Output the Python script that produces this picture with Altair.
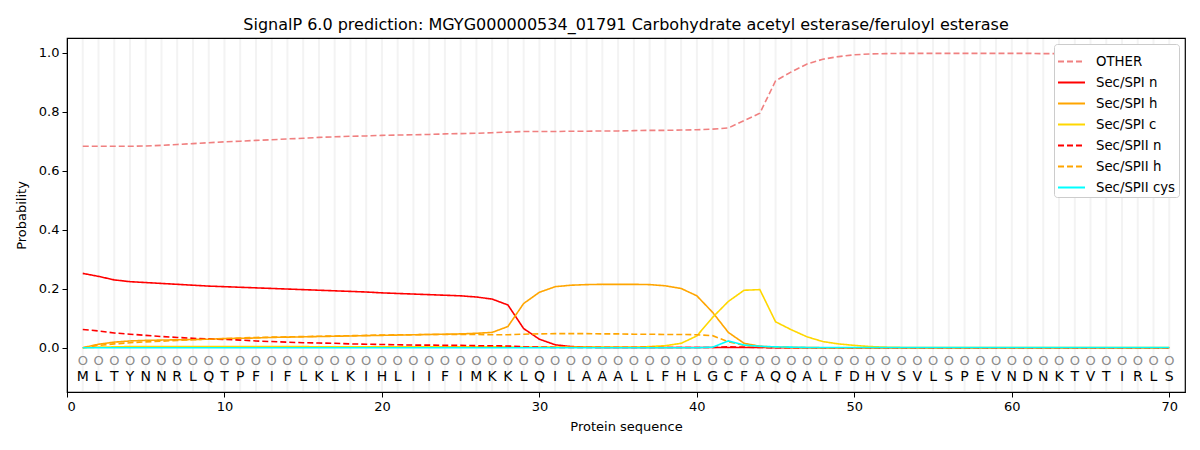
import altair as alt
import pandas as pd

sequence = list("MLTYNNRLQTPFIFLKLKIHLIIFIMKKLQILAAALLFHLGCFAQQALFDHVSVLSPEVNDNKTVTIRLS")
positions = list(range(1, len(sequence) + 1))

other = [0.683, 0.683, 0.683, 0.683, 0.684, 0.686, 0.689, 0.692, 0.695, 0.698,
         0.700, 0.703, 0.705, 0.708, 0.710, 0.713, 0.715, 0.717, 0.718, 0.720,
         0.721, 0.722, 0.723, 0.725, 0.726, 0.727, 0.729, 0.731, 0.733, 0.733,
         0.733, 0.734, 0.734, 0.735, 0.735, 0.736, 0.737, 0.737, 0.738, 0.739,
         0.741, 0.745, 0.770, 0.795, 0.905, 0.935, 0.962, 0.978, 0.987, 0.993,
         0.996, 0.997, 0.998, 0.998, 0.998, 0.998, 0.998, 0.998, 0.998, 0.998,
         0.998, 0.997, 0.997, 0.997, 0.997, 0.997, 0.997, 0.997, 0.998, 0.999]
spi_n = [0.252, 0.242, 0.230, 0.224, 0.221, 0.218, 0.215, 0.212, 0.209, 0.207,
         0.205, 0.203, 0.201, 0.199, 0.197, 0.195, 0.193, 0.191, 0.189, 0.186,
         0.184, 0.182, 0.180, 0.178, 0.176, 0.172, 0.165, 0.145, 0.065, 0.029,
         0.010, 0.004, 0.002, 0.001, 0.001, 0.001, 0.001, 0.001, 0.001, 0.001,
         0.001, 0.001, 0.001, 0.001, 0.000, 0.000, 0.000, 0.000, 0.000, 0.000,
         0.000, 0.000, 0.000, 0.000, 0.000, 0.000, 0.000, 0.000, 0.000, 0.000,
         0.000, 0.000, 0.000, 0.000, 0.000, 0.000, 0.000, 0.000, 0.000, 0.000]
spi_h = [0.000, 0.012, 0.019, 0.023, 0.025, 0.026, 0.027, 0.028, 0.029, 0.031,
         0.032, 0.033, 0.035, 0.036, 0.037, 0.038, 0.039, 0.040, 0.041, 0.042,
         0.043, 0.044, 0.045, 0.046, 0.047, 0.049, 0.052, 0.072, 0.150, 0.188,
         0.207, 0.212, 0.214, 0.215, 0.215, 0.215, 0.214, 0.210, 0.201, 0.176,
         0.120, 0.052, 0.015, 0.005, 0.002, 0.001, 0.001, 0.000, 0.000, 0.000,
         0.000, 0.000, 0.000, 0.000, 0.000, 0.000, 0.000, 0.000, 0.000, 0.000,
         0.000, 0.000, 0.000, 0.000, 0.000, 0.000, 0.000, 0.000, 0.000, 0.000]
spi_c = [0.000, 0.002, 0.003, 0.004, 0.004, 0.004, 0.004, 0.004, 0.004, 0.004,
         0.004, 0.004, 0.004, 0.004, 0.004, 0.003, 0.003, 0.003, 0.003, 0.003,
         0.003, 0.003, 0.003, 0.003, 0.003, 0.003, 0.003, 0.003, 0.002, 0.002,
         0.002, 0.002, 0.002, 0.002, 0.002, 0.002, 0.004, 0.007, 0.015, 0.040,
         0.103, 0.157, 0.195, 0.197, 0.088, 0.061, 0.037, 0.021, 0.013, 0.008,
         0.004, 0.002, 0.001, 0.001, 0.001, 0.001, 0.001, 0.001, 0.001, 0.001,
         0.001, 0.001, 0.001, 0.001, 0.001, 0.001, 0.001, 0.001, 0.001, 0.001]
spii_n = [0.062, 0.057, 0.050, 0.046, 0.042, 0.038, 0.035, 0.032, 0.030, 0.028,
          0.026, 0.023, 0.021, 0.019, 0.017, 0.016, 0.015, 0.013, 0.012, 0.011,
          0.010, 0.009, 0.009, 0.008, 0.008, 0.007, 0.007, 0.006, 0.003, 0.002,
          0.001, 0.001, 0.001, 0.001, 0.001, 0.001, 0.001, 0.001, 0.001, 0.001,
          0.001, 0.003, 0.002, 0.001, 0.000, 0.000, 0.000, 0.000, 0.000, 0.000,
          0.000, 0.000, 0.000, 0.000, 0.000, 0.000, 0.000, 0.000, 0.000, 0.000,
          0.000, 0.000, 0.000, 0.000, 0.000, 0.000, 0.000, 0.000, 0.000, 0.000]
spii_h = [0.000, 0.008, 0.013, 0.017, 0.020, 0.022, 0.025, 0.027, 0.029, 0.031,
          0.033, 0.035, 0.036, 0.037, 0.038, 0.039, 0.040, 0.041, 0.042, 0.043,
          0.044, 0.044, 0.045, 0.045, 0.045, 0.045, 0.044, 0.044, 0.046, 0.047,
          0.048, 0.048, 0.048, 0.047, 0.047, 0.046, 0.046, 0.045, 0.045, 0.044,
          0.041, 0.020, 0.008, 0.004, 0.002, 0.001, 0.000, 0.000, 0.000, 0.000,
          0.000, 0.000, 0.000, 0.000, 0.000, 0.000, 0.000, 0.000, 0.000, 0.000,
          0.000, 0.000, 0.000, 0.000, 0.000, 0.000, 0.000, 0.000, 0.000, 0.000]
spii_cys = [0.000, 0.000, 0.000, 0.000, 0.000, 0.000, 0.000, 0.000, 0.000, 0.000,
            0.000, 0.000, 0.000, 0.000, 0.000, 0.000, 0.000, 0.000, 0.000, 0.000,
            0.000, 0.000, 0.000, 0.000, 0.000, 0.000, 0.000, 0.000, 0.000, 0.000,
            0.000, 0.000, 0.000, 0.000, 0.000, 0.000, 0.000, 0.000, 0.000, 0.000,
            0.002, 0.023, 0.009, 0.005, 0.003, 0.002, 0.001, 0.001, 0.001, 0.001,
            0.001, 0.001, 0.001, 0.001, 0.001, 0.001, 0.001, 0.001, 0.001, 0.001,
            0.001, 0.001, 0.001, 0.001, 0.001, 0.001, 0.001, 0.001, 0.001, 0.001]

series_names = ["OTHER", "Sec/SPI n", "Sec/SPI h", "Sec/SPI c",
                "Sec/SPII n", "Sec/SPII h", "Sec/SPII cys"]
series_values = [other, spi_n, spi_h, spi_c, spii_n, spii_h, spii_cys]
series_colors = ["#f08080", "#ff0000", "#ffa500", "#ffd700",
                 "#ff0000", "#ffa500", "#00ffff"]
series_dashes = [[6, 3], [1, 0], [1, 0], [1, 0], [6, 3], [6, 3], [1, 0]]

rows = []
for name, vals in zip(series_names, series_values):
    for p, v in zip(positions, vals):
        rows.append({"pos": p, "prob": v, "series": name})
lines_df = pd.DataFrame(rows)
seq_df = pd.DataFrame({"pos": positions, "aa": sequence,
                       "o_y": -0.045, "aa_y": -0.10})

x_scale = alt.Scale(domain=[0, 71], nice=False, zero=False)
y_scale = alt.Scale(domain=[-0.15, 1.05], nice=False, zero=False)

# faint per-residue guide lines, kept inside the frame
grid = alt.Chart(seq_df).mark_rule(color="#f3f3f3", strokeWidth=2).encode(
    x=alt.X("pos:Q", scale=x_scale),
    y=alt.value(1),
    y2=alt.value(353),
)

circles = alt.Chart(seq_df).mark_text(
    text="O", font="DejaVu Sans", fontSize=13, color="#8c8c8c", baseline="middle"
).encode(
    x=alt.X("pos:Q", scale=x_scale),
    y=alt.Y("o_y:Q", scale=y_scale),
)

letters = alt.Chart(seq_df).mark_text(
    font="DejaVu Sans", fontSize=14, color="black", baseline="middle"
).encode(
    x=alt.X("pos:Q", scale=x_scale),
    y=alt.Y("aa_y:Q", scale=y_scale),
    text="aa:N",
)

lines = alt.Chart(lines_df).mark_line(strokeWidth=1.6).encode(
    x=alt.X("pos:Q", scale=x_scale, title="Protein sequence",
            axis=alt.Axis(values=[0, 10, 20, 30, 40, 50, 60, 70], format="d")),
    y=alt.Y("prob:Q", scale=y_scale, title="Probability",
            axis=alt.Axis(values=[0.0, 0.2, 0.4, 0.6, 0.8, 1.0], format=".1f")),
    color=alt.Color("series:N", sort=series_names,
                    scale=alt.Scale(domain=series_names, range=series_colors),
                    legend=alt.Legend(title=None)),
    strokeDash=alt.StrokeDash("series:N", sort=series_names,
                              scale=alt.Scale(domain=series_names, range=series_dashes),
                              legend=alt.Legend(title=None)),
)

chart = alt.layer(grid, lines, circles, letters).properties(
    width=1118,
    height=354,
    title=alt.Title(
        "SignalP 6.0 prediction: MGYG000000534_01791 Carbohydrate acetyl esterase/feruloyl esterase",
        fontSize=16, font="DejaVu Sans", fontWeight="normal", color="black", offset=5,
    ),
    autosize=alt.AutoSizeParams(type="none"),
    padding={"left": 59, "top": 30, "right": 7, "bottom": 50},
).configure_view(
    stroke="black", strokeWidth=1.2
).configure_axis(
    labelFont="DejaVu Sans", titleFont="DejaVu Sans",
    labelFontSize=13, titleFontSize=13, titleFontWeight="normal",
    labelColor="black", titleColor="black",
    domainColor="black", tickColor="black", tickSize=5,
    grid=False,
).configure_axisX(
    titlePadding=7, labelPadding=3
).configure_axisY(
    titlePadding=10, labelPadding=3
).configure_legend(
    orient="top-right", offset=6,
    labelFont="DejaVu Sans", labelFontSize=13.3, labelColor="black",
    symbolType="stroke", symbolSize=729, symbolStrokeWidth=2,
    fillColor="white", strokeColor="#cccccc", cornerRadius=3,
    padding=3, rowPadding=0, labelOffset=10,
)

chart.save("out.html", embed_options={"renderer": "svg", "actions": False})
